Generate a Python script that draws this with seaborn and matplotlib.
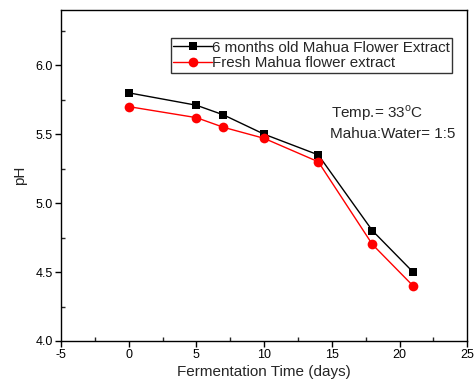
import matplotlib
matplotlib.use("Agg")
import matplotlib.pyplot as plt
import seaborn as sns
import pandas as pd
from matplotlib.ticker import MultipleLocator

days = [0, 5, 7, 10, 14, 18, 21]
old_extract = [5.80, 5.71, 5.64, 5.50, 5.35, 4.80, 4.50]
fresh_extract = [5.70, 5.62, 5.55, 5.47, 5.30, 4.70, 4.40]
series_names = ["6 months old Mahua Flower Extract", "Fresh Mahua flower extract"]

sns.set_style("ticks")
plt.rcParams['font.family'] = ['Liberation Sans', 'DejaVu Sans']
plt.rcParams['axes.unicode_minus'] = False

df = pd.DataFrame({
    "Fermentation Time (days)": days * 2,
    "pH": old_extract + fresh_extract,
    "series": [series_names[0]] * len(days) + [series_names[1]] * len(days),
})

fig = plt.figure(figsize=(4.74, 3.89), dpi=100)
ax = fig.add_axes([0.1287, 0.1234, 0.857, 0.8506])

sns.lineplot(data=df, x="Fermentation Time (days)", y="pH", hue="series",
             style="series", palette=["black", "red"],
             markers=["s", "o"], dashes=False, markersize=7,
             markeredgewidth=0, linewidth=1.0, ax=ax, legend=True)

for ln in ax.lines:
    if ln.get_marker() == "s":
        ln.set_markersize(6)

ax.set_xlim(-5, 25)
ax.set_ylim(4.0, 6.4)
ax.xaxis.set_major_locator(MultipleLocator(5))
ax.xaxis.set_minor_locator(MultipleLocator(2.5))
ax.yaxis.set_major_locator(MultipleLocator(0.5))
ax.yaxis.set_minor_locator(MultipleLocator(0.25))
ax.set_yticks([4.0, 4.5, 5.0, 5.5, 6.0])
ax.set_yticklabels(["4.0", "4.5", "5.0", "5.5", "6.0"])
ax.tick_params(axis="both", which="major", direction="out", length=4, width=1,
               labelsize=9, pad=2, colors="black")
ax.tick_params(axis="both", which="minor", direction="in", length=3, width=1)
ax.tick_params(top=False, right=False, which="both")
for s in ax.spines.values():
    s.set_visible(True)
    s.set_linewidth(1.0)
    s.set_color("black")

ax.set_xlabel("Fermentation Time (days)", fontsize=11, labelpad=3)
ax.set_ylabel("pH", fontsize=11, labelpad=6)

leg = ax.legend(loc="upper left", bbox_to_anchor=(0.27, 0.915), fontsize=10.9,
                frameon=True, fancybox=False, shadow=False, handlelength=2.6,
                handletextpad=0.0, borderpad=0.15, labelspacing=0.12,
                borderaxespad=0)
leg.get_frame().set_edgecolor("black")
leg.get_frame().set_linewidth(1.0)
for h in leg.legend_handles:
    if h.get_marker() == "s":
        h.set_markersize(6)

ax.text(0.665, 0.689, "Temp.= 33$^{\\mathregular{o}}$C", transform=ax.transAxes,
        fontsize=11, ha="left", va="center")
ax.text(0.661, 0.625, "Mahua:Water= 1:5", transform=ax.transAxes,
        fontsize=11, ha="left", va="center")

fig.savefig("out.png", dpi=100)
